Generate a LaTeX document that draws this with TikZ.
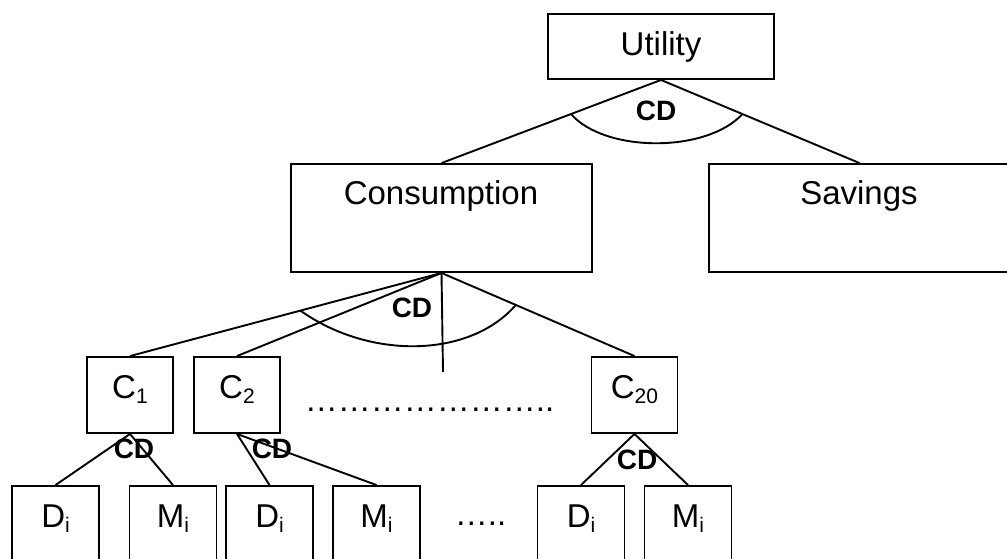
\documentclass[tikz,border=0pt]{standalone}
\usepackage{fontspec}
\setmainfont{Liberation Sans}
\usetikzlibrary{calc}
\newcommand\lowidx[1]{\raisebox{-5pt}{\fontsize{21}{21}\selectfont #1}}
\newcommand\elps{…}
\begin{document}
\begin{tikzpicture}[x=1pt,y=-1pt,line width=1.9pt,
  box/.style={draw,rectangle,inner sep=0pt,line width=1.9pt},
  lbl/.style={font=\fontsize{33}{40}\selectfont,anchor=base,inner sep=0pt},
  cd/.style={font=\bfseries\fontsize{28}{34}\selectfont,inner sep=0pt}]
\useasboundingbox (0,0) rectangle (1007,558);

% top level
\node[box,minimum width=226pt,minimum height=65pt] (util) at (661,46.5) {};
\node[box,minimum width=301pt,minimum height=108pt] (cons) at (441.5,218) {};
\node[box,minimum width=301pt,minimum height=108pt] (sav) at (859.5,218) {};

% category level
\node[box,minimum width=86pt,minimum height=76pt] (c1) at (130,395) {};
\node[box,minimum width=86pt,minimum height=76pt] (c2) at (237,395) {};
\node[box,minimum width=86pt,minimum height=76pt] (c20) at (634.5,395) {};

% domestic / imported level
\node[box,minimum width=87pt,minimum height=100pt] (d1) at (55.5,536) {};
\node[box,minimum width=87pt,minimum height=100pt] (m1) at (173,536) {};
\node[box,minimum width=87pt,minimum height=100pt] (d2) at (269.5,536) {};
\node[box,minimum width=87pt,minimum height=100pt] (m2) at (376.5,536) {};
\node[box,minimum width=87pt,minimum height=100pt] (d3) at (581,536) {};
\node[box,minimum width=87pt,minimum height=100pt] (m3) at (688,536) {};

% connectors
\draw (util.south) -- (cons.north);
\draw (util.south) -- (sav.north);
\draw ($(util.south)!0.41!(cons.north)$) .. controls (605,153) and (707,153) .. ($(util.south)!0.41!(sav.north)$);

\coordinate (vend) at (443,372);
\draw (cons.south) -- (c1.north);
\draw (cons.south) -- (c2.north);
\draw (cons.south) -- (c20.north);
\draw (cons.south) -- (vend);
\draw ($(cons.south)!0.453!(c1.north)$) .. controls (370,360) and (470,358) .. ($(cons.south)!0.385!(c20.north)$);

\draw (c1.south) -- (d1.north);
\draw (c1.south) -- (m1.north);
\draw (c2.south) -- (d2.north);
\draw (c2.south) -- (m2.north);
\draw (c20.south) -- (d3.north);
\draw (c20.south) -- (m3.north);

% texts
\node[lbl] (tu) at (661,55) {Utility};
\node[lbl] (tc) at (441,204) {Consumption};
\node[lbl] (ts) at (859,204) {Savings};
\node[lbl] (tc1) at (130,398) {C\lowidx{1}};
\node[lbl] (tc2) at (237,398) {C\lowidx{2}};
\node[lbl] (tc20) at (634.5,398) {C\lowidx{20}};
\node[lbl] (td1) at (55.5,527) {D\lowidx{i}};
\node[lbl] (tm1) at (173,527) {M\lowidx{i}};
\node[lbl] (td2) at (269.5,527) {D\lowidx{i}};
\node[lbl] (tm2) at (376.5,527) {M\lowidx{i}};
\node[lbl] (td3) at (581,527) {D\lowidx{i}};
\node[lbl] (tm3) at (688,527) {M\lowidx{i}};
\node[lbl,anchor=base west] (dots1) at (304,411) {\elps\elps\elps\elps\elps\elps\elps..};
\node[lbl,anchor=base west] (dots2) at (454,525) {\elps..};

\node[cd] (cd0) at (656,111) {CD};
\node[cd] (cd1) at (412,308) {CD};
\node[cd] (cd2) at (134,449) {CD};
\node[cd] (cd3) at (272,449) {CD};
\node[cd] (cd4) at (637,460) {CD};
\end{tikzpicture}
\end{document}
